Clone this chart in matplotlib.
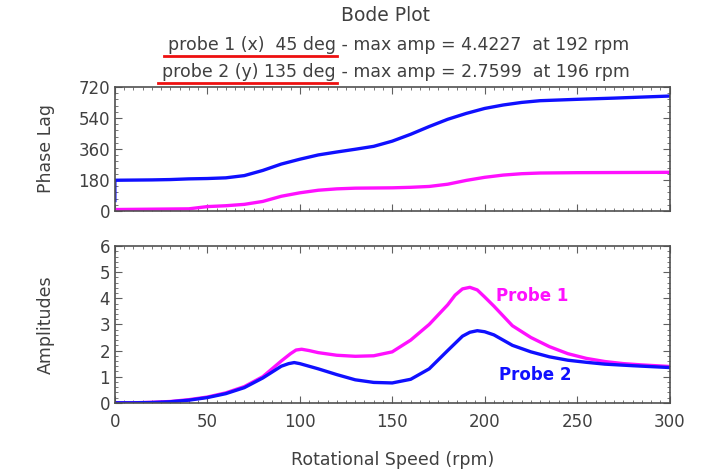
import numpy as np
import matplotlib
matplotlib.use('Agg')
import matplotlib.pyplot as plt
from matplotlib.ticker import MultipleLocator
from matplotlib.lines import Line2D

plt.rcParams['font.family'] = ['DejaVu Sans']

# amplitude vs speed
amp_rpm1 = [0, 10, 20, 30, 40, 50, 60, 70, 80, 90, 95, 98, 101, 105, 110, 120, 130, 140,
            150, 160, 170, 180, 184, 188, 192, 196, 200, 205, 215, 225, 235, 245, 255,
            265, 275, 285, 300]
amp_p1 = [0, 0, 0.02, 0.05, 0.12, 0.22, 0.38, 0.62, 1.0, 1.6, 1.88, 2.02, 2.05, 2.0, 1.92,
          1.82, 1.78, 1.8, 1.95, 2.4, 3.0, 3.75, 4.12, 4.36, 4.42, 4.32, 4.05, 3.7, 2.95,
          2.5, 2.15, 1.88, 1.7, 1.58, 1.5, 1.45, 1.39]
amp_rpm2 = [0, 10, 20, 30, 40, 50, 60, 70, 80, 90, 94, 97, 100, 110, 120, 130, 140, 150,
            160, 170, 180, 188, 192, 196, 200, 205, 215, 225, 235, 245, 255, 265, 280, 300]
amp_p2 = [0, 0, 0.01, 0.04, 0.1, 0.2, 0.35, 0.58, 0.95, 1.4, 1.5, 1.54, 1.5, 1.3, 1.08,
          0.88, 0.78, 0.76, 0.9, 1.3, 2.0, 2.55, 2.7, 2.76, 2.72, 2.6, 2.2, 1.95, 1.76,
          1.63, 1.55, 1.48, 1.42, 1.35]

# phase lag vs speed
ph_rpm1 = [0, 20, 40, 50, 60, 70, 80, 90, 100, 110, 120, 130, 140, 150, 160, 170, 180,
           190, 200, 210, 220, 230, 250, 300]
ph_p1 = [8, 10, 12, 25, 30, 38, 55, 85, 105, 120, 128, 132, 133, 134, 137, 142, 155, 177,
         195, 208, 216, 220, 222, 224]
ph_rpm2 = [0, 0, 20, 30, 40, 50, 60, 70, 80, 90, 100, 110, 120, 130, 140, 150, 160, 170,
           180, 190, 200, 210, 220, 230, 250, 270, 300]
ph_p2 = [60, 178, 180, 182, 186, 188, 192, 205, 235, 272, 300, 325, 342, 358, 375, 405,
         445, 490, 532, 566, 595, 615, 630, 640, 648, 655, 667]

txt = '#404040'
blue = '#1010ff'
mag = '#ff10ff'

fig = plt.figure(figsize=(7.27, 4.75), dpi=100)
ax1 = fig.add_axes([0.158, 0.556, 0.763, 0.261])
ax2 = fig.add_axes([0.158, 0.152, 0.763, 0.330])

ax1.plot(ph_rpm2, ph_p2, color=blue, lw=2.4)
ax1.plot(ph_rpm1, ph_p1, color=mag, lw=2.4)
ax2.plot(amp_rpm1, amp_p1, color=mag, lw=2.4)
ax2.plot(amp_rpm2, amp_p2, color=blue, lw=2.4)

ax1.set_ylim(0, 720)
ax1.yaxis.set_major_locator(MultipleLocator(180))
ax1.yaxis.set_minor_locator(MultipleLocator(36))
ax1.set_xticklabels([])
ax1.set_ylabel('Phase Lag', fontsize=12.5, color=txt)

ax2.set_ylim(0, 6)
ax2.yaxis.set_major_locator(MultipleLocator(1))
ax2.yaxis.set_minor_locator(MultipleLocator(0.2))
ax2.set_ylabel('Amplitudes', fontsize=12.5, color=txt)
ax2.set_xlabel('Rotational Speed (rpm)', fontsize=12.5, color=txt, labelpad=15)
ax2.text(206, 4.1, 'Probe 1', color=mag, fontsize=12, fontweight='bold', va='center')
ax2.text(208, 1.08, 'Probe 2', color=blue, fontsize=12, fontweight='bold', va='center')

for ax in (ax1, ax2):
    ax.set_xlim(0, 300)
    ax.xaxis.set_major_locator(MultipleLocator(50))
    ax.xaxis.set_minor_locator(MultipleLocator(5))
    ax.tick_params(which='both', direction='in', top=True, right=True, colors='#606060',
                   labelcolor=txt, labelsize=12)
    ax.tick_params(which='major', length=5)
    ax.tick_params(which='minor', length=2.5)
    ax.tick_params(axis='x', pad=7)
    ax.yaxis.set_label_coords(-0.108, 0.5)
    for s in ax.spines.values():
        s.set_color('#505050')
        s.set_linewidth(1.2)

fig.text(0.53, 0.968, 'Bode Plot', ha='center', va='center', fontsize=13.5, color=txt)

rows = [('probe 1 (x)  45 deg', ' - max amp = 4.4227  at 192 rpm', 0.905),
        ('probe 2 (y) 135 deg', ' - max amp = 2.7599  at 196 rpm', 0.848)]
split_x = 0.462
left_parts = []
for a, b, y in rows:
    t = fig.text(split_x, y, a, ha='right', va='center', fontsize=12.5, color=txt)
    fig.text(split_x, y, b, ha='left', va='center', fontsize=12.5, color=txt)
    left_parts.append(t)

fig.canvas.draw()
r = fig.canvas.get_renderer()
for t in left_parts:
    bb = t.get_window_extent(r).transformed(fig.transFigure.inverted())
    fig.add_artist(Line2D([bb.x0 - 0.006, bb.x1 + 0.002], [bb.y0 - 0.004, bb.y0 - 0.004],
                          transform=fig.transFigure, color='#ee1010', lw=2))

fig.savefig('out.png', dpi=100)
